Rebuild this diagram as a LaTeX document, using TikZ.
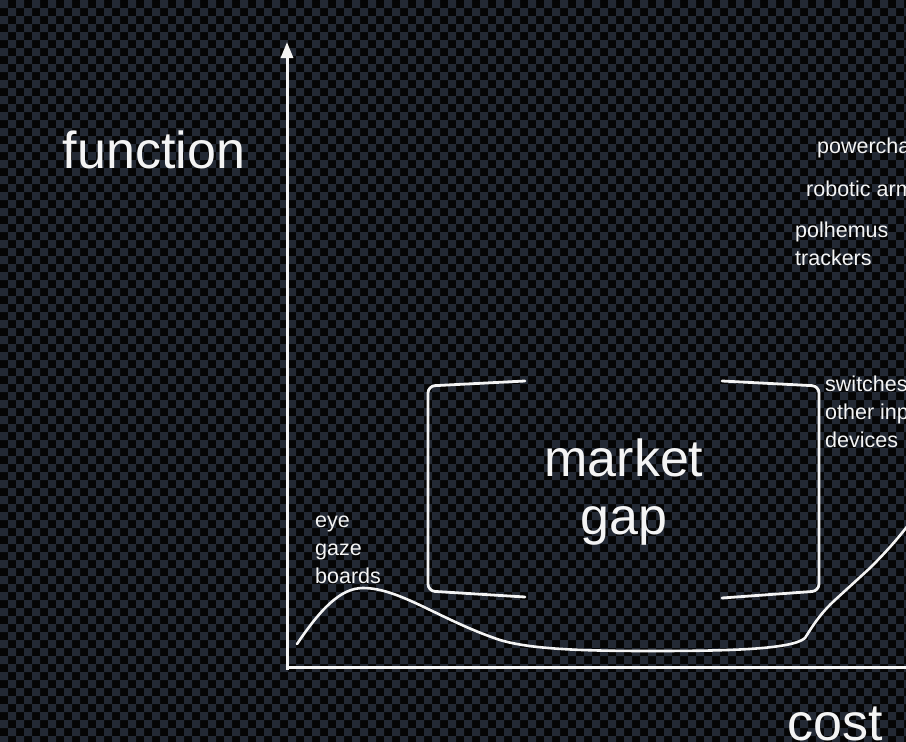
\documentclass[tikz,border=0pt]{standalone}
\usepackage{fontspec}
\setmainfont{Liberation Sans}
\usetikzlibrary{arrows.meta}
\definecolor{chkA}{HTML}{050505}
\definecolor{chkB}{HTML}{232934}
\definecolor{ink}{HTML}{F4F4F4}
\tikzset{
  bigtxt/.style={text=ink,inner sep=0pt,font=\fontsize{52}{58}\selectfont},
  smalltxt/.style={text=ink,inner sep=0pt,anchor=base west,align=left,font=\fontsize{21.5}{28}\selectfont},
  axisline/.style={draw=ink,line width=3pt},
  curveline/.style={draw=ink,line width=2.6pt,line cap=round,line join=round},
  bracketline/.style={draw=ink,line width=2.8pt,rounded corners=7pt,line cap=round}
}
\begin{document}
\begin{tikzpicture}[x=1pt,y=-1pt]
\useasboundingbox (0,0) rectangle (906,742);
\fill[chkA] (0,0) rectangle (906,742);
\foreach \r in {0,...,92}{
  \pgfmathtruncatemacro\off{mod(\r,2)}
  \fill[chkB] foreach \c in {0,...,56}{ ({(2*\c+\off)*8},{\r*8}) rectangle ++(8,8) };
}
% axes
\coordinate (origin) at (287,670);
\coordinate (ytip) at (287,42);
\coordinate (xend) at (920,667);
\draw[axisline,-{Triangle[length=16pt,width=12pt]}] (origin) -- (ytip);
\draw[axisline] (285.5,667) -- (xend);
% labels
\node[bigtxt,anchor=base] (fn) at (154,168) {function};
\node[bigtxt,anchor=base west] (cost) at (787,740) {cost};
\node[bigtxt,anchor=base,align=center] (gap) at (624,534) {market\\gap};
% small labels
\node[smalltxt] (eye) at (315,583) {eye\\gaze\\boards};
\node[smalltxt] (pw) at (817,153) {powerchairs};
\node[smalltxt] (ra) at (806,196) {robotic arms};
\node[smalltxt] (ph) at (795,265) {polhemus\\trackers};
\node[smalltxt] (sw) at (825,447) {switches\\other input\\devices};
% brackets
\coordinate (lb1) at (525,381);
\coordinate (lb2) at (428,386);
\coordinate (lb3) at (428,591);
\coordinate (lb4) at (525,597);
\draw[bracketline] (lb1) -- (lb2) -- (lb3) -- (lb4);
\coordinate (rb1) at (722,381);
\coordinate (rb2) at (819,386);
\coordinate (rb3) at (819,591);
\coordinate (rb4) at (722,598);
\draw[bracketline] (rb1) -- (rb2) -- (rb3) -- (rb4);
% curve
\coordinate (c0) at (297,644);
\coordinate (c1) at (363,588);
\coordinate (c2) at (500,640);
\coordinate (c3) at (650,651);
\coordinate (c4) at (805,638);
\coordinate (c5) at (870,568);
\coordinate (c6) at (918,512);
\draw[curveline] (c0) .. controls (320,610) and (340,588) .. (c1)
  .. controls (400,588) and (440,620) .. (c2)
  .. controls (530,649) and (580,651) .. (c3)
  .. controls (720,651) and (792,650) .. (c4)
  .. controls (815,622) and (822,612) .. (835,600) -- (c5)
  .. controls (885,553) and (900,537) .. (c6);
\end{tikzpicture}
\end{document}
